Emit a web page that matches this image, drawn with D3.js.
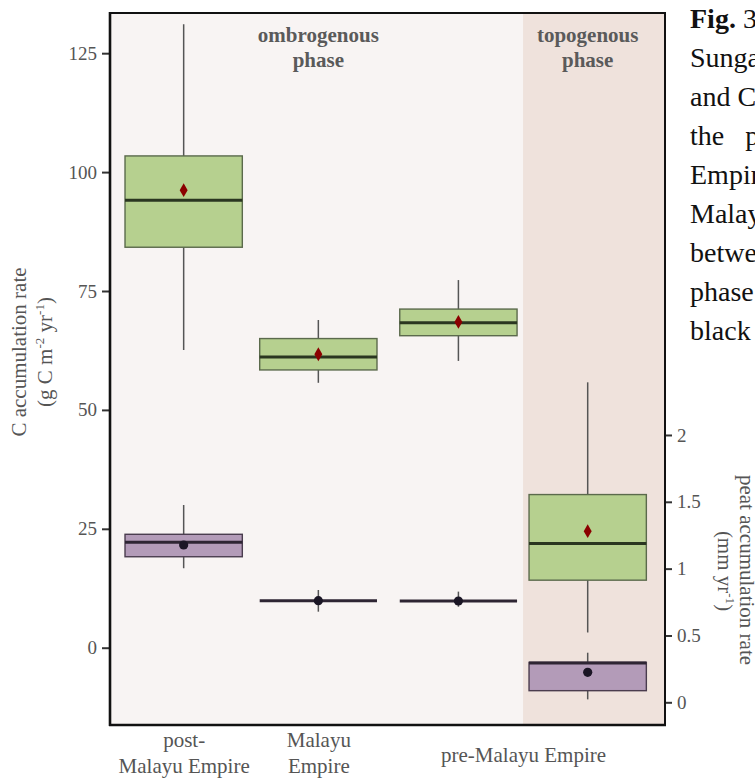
<!DOCTYPE html>
<html>
<head>
<meta charset="utf-8">
<script src="https://cdn.jsdelivr.net/npm/d3@7"></script>
<style>
  html, body { margin: 0; padding: 0; background: #ffffff; }
  svg { display: block; }
</style>
</head>
<body>
<svg id="chart" width="755" height="781"></svg>
<script>
// ---------------- DATA ----------------
const groups = ["post-Malayu Empire", "Malayu Empire", "pre-Malayu Empire (ombrogenous)", "pre-Malayu Empire (topogenous)"];
const xPos = [1, 2, 3.04, 4];

// C accumulation rate (g C m-2 yr-1) — left axis, green boxes
const cMin  = [62.6, 55.7, 60.3, 3.2];
const cQ1   = [84.2, 58.4, 65.6, 14.2];
const cMed  = [94.1, 61.1, 68.3, 21.9];
const cQ3   = [103.4, 65.0, 71.2, 32.2];
const cMax  = [131.1, 68.9, 77.3, 55.8];
const cMean = [96.2, 61.7, 68.5, 24.5];

// peat accumulation rate (mm yr-1) — right axis, purple boxes
const pMin  = [1.003, 0.678, 0.715, 0.022];
const pQ1   = [1.089, 0.760, 0.758, 0.087];
const pMed  = [1.197, 0.760, 0.758, 0.294];
const pQ3   = [1.257, 0.760, 0.758, 0.299];
const pMax  = [1.476, 0.840, 0.828, 0.371];
const pMean = [1.177, 0.760, 0.758, 0.224];

const leftTicks  = [0, 25, 50, 75, 100, 125];
const rightTicks = [0, 0.5, 1, 1.5, 2];
const xLabelPos  = [1, 2, 3.52];
const xLabels    = [["post-", "Malayu Empire"], ["Malayu", "Empire"], ["pre-Malayu Empire"]];
const phaseBoundary = 3.52;
const phaseLabels = [{x: 2.0, lines: ["ombrogenous", "phase"]}, {x: 4.0, lines: ["topogenous", "phase"]}];
const captionLines = ["Fig. 3", "Sungai", "and C", "the p", "Empire", "Malayu", "between", "phase", "black"];

// ---------------- SETUP ----------------
const svg = d3.select("#chart");
const serif = "'Liberation Serif', 'Times New Roman', serif";
const L = 110, R = 665, T = 13, B = 725;

const x  = d3.scaleLinear().domain([0.453, 4.574]).range([L, R]);
const yC = d3.scaleLinear().domain([-16.25, 133.45]).range([B, T]);
const yP = d3.scaleLinear().domain([-0.1698, 5.157]).range([B, T]);

const boxW = x(0.4355) - x(0);

// backgrounds
svg.append("rect").attr("x", x(x.domain()[0])).attr("y", T)
  .attr("width", x(phaseBoundary) - x(x.domain()[0])).attr("height", B - T)
  .attr("fill", "#f8f4f3");
svg.append("rect").attr("x", x(phaseBoundary)).attr("y", T)
  .attr("width", x(x.domain()[1]) - x(phaseBoundary)).attr("height", B - T)
  .attr("fill", "#efe2dc");

// phase labels
phaseLabels.forEach(p => {
  const t = svg.append("text").attr("text-anchor", "middle")
    .attr("font-family", serif).attr("font-size", 21).attr("font-weight", "bold")
    .attr("fill", "#5a5a5a");
  p.lines.forEach((ln, i) => {
    t.append("tspan").attr("x", x(p.x)).attr("y", 42 + i * 25).text(ln);
  });
});

// ---------------- BOXES ----------------
function drawBox(i, stats, scale, fill, stroke, medColor, meanType) {
  const g = svg.append("g");
  const cx = x(xPos[i]);
  g.append("line").attr("x1", cx).attr("x2", cx)
    .attr("y1", scale(stats.max)).attr("y2", scale(stats.min))
    .attr("stroke", "#555").attr("stroke-width", 1.5);
  const top = scale(stats.q3), bot = scale(stats.q1);
  if (bot - top > 0.5) {
    g.append("rect").attr("x", cx - boxW).attr("y", top)
      .attr("width", boxW * 2).attr("height", bot - top)
      .attr("fill", fill).attr("stroke", stroke).attr("stroke-width", 1.4);
  }
  g.append("line").attr("x1", cx - boxW).attr("x2", cx + boxW)
    .attr("y1", scale(stats.med)).attr("y2", scale(stats.med))
    .attr("stroke", medColor).attr("stroke-width", 3);
  if (meanType === "diamond") {
    g.append("path").attr("d", d3.symbol(d3.symbolDiamond, 55)())
      .attr("transform", `translate(${cx},${scale(stats.mean)})`)
      .attr("fill", "#8b0000");
  } else {
    g.append("circle").attr("cx", cx).attr("cy", scale(stats.mean)).attr("r", 4.6)
      .attr("fill", "#1b1625");
  }
}

groups.forEach((gname, i) => {
  drawBox(i, {min: pMin[i], q1: pQ1[i], med: pMed[i], q3: pQ3[i], max: pMax[i], mean: pMean[i]},
    yP, "#b39bb8", "#4a3c4e", "#2e2533", "dot");
  drawBox(i, {min: cMin[i], q1: cQ1[i], med: cMed[i], q3: cQ3[i], max: cMax[i], mean: cMean[i]},
    yC, "#b6d08f", "#5b6a4c", "#2a3620", "diamond");
});

// ---------------- AXES ----------------
const axL = svg.append("g").attr("transform", `translate(${L},0)`)
  .call(d3.axisLeft(yC).tickValues(leftTicks).tickSize(8).tickPadding(5));
const axR = svg.append("g").attr("transform", `translate(${R},0)`)
  .call(d3.axisRight(yP).tickValues(rightTicks).tickSize(7).tickPadding(5).tickFormat(d => String(d)));
[axL, axR].forEach(a => {
  a.select(".domain").remove();
  a.selectAll(".tick line").attr("stroke", "#333").attr("stroke-width", 2);
  a.selectAll(".tick text").attr("font-family", serif).attr("font-size", 19).attr("fill", "#555");
});

// x axis labels
const axB = svg.append("g").attr("transform", `translate(0,${B})`)
  .call(d3.axisBottom(x).tickValues(xLabelPos).tickSize(0).tickFormat(""));
axB.select(".domain").remove();
axB.selectAll(".tick").each(function(d, i) {
  const lines = xLabels[i];
  const t = d3.select(this).append("text").attr("text-anchor", "middle")
    .attr("font-family", serif).attr("font-size", 21).attr("fill", "#555");
  if (lines.length === 1) {
    t.append("tspan").attr("x", 0).attr("y", 37).text(lines[0]);
  } else {
    lines.forEach((ln, j) => t.append("tspan").attr("x", 0).attr("y", 22 + j * 26).text(ln));
  }
});

// panel border
svg.append("rect").attr("x", L).attr("y", T).attr("width", R - L).attr("height", B - T)
  .attr("fill", "none").attr("stroke", "#111").attr("stroke-width", 2);
svg.append("line").attr("x1", L).attr("x2", L).attr("y1", T - 1).attr("y2", B + 1)
  .attr("stroke", "#111").attr("stroke-width", 2.6);
svg.append("line").attr("x1", L - 1).attr("x2", R + 1).attr("y1", B).attr("y2", B)
  .attr("stroke", "#111").attr("stroke-width", 2.6);

// axis titles
svg.append("text").attr("transform", "translate(26,352) rotate(-90)")
  .attr("text-anchor", "middle").attr("font-family", serif).attr("font-size", 21).attr("fill", "#555")
  .text("C accumulation rate");
const lt2 = svg.append("text").attr("transform", "translate(52,352) rotate(-90)")
  .attr("text-anchor", "middle").attr("font-family", serif).attr("font-size", 21).attr("fill", "#555");
lt2.append("tspan").text("(g C m");
lt2.append("tspan").attr("font-size", 13).attr("dy", -8).text("-2");
lt2.append("tspan").attr("dy", 8).text(" yr");
lt2.append("tspan").attr("font-size", 13).attr("dy", -8).text("-1");
lt2.append("tspan").attr("dy", 8).text(")");

svg.append("text").attr("transform", "translate(740,570) rotate(90)")
  .attr("text-anchor", "middle").attr("font-family", serif).attr("font-size", 21).attr("fill", "#555")
  .text("peat accumulation rate");
const rt2 = svg.append("text").attr("transform", "translate(718,571) rotate(90)")
  .attr("text-anchor", "middle").attr("font-family", serif).attr("font-size", 21).attr("fill", "#555");
rt2.append("tspan").text("(mm yr");
rt2.append("tspan").attr("font-size", 13).attr("dy", -8).text("-1");
rt2.append("tspan").attr("dy", 8).text(")");

// caption fragment (cut at the window edge, as in the reference)
captionLines.forEach((ln, i) => {
  const t = svg.append("text").attr("x", 690).attr("y", 28 + i * 39)
    .attr("font-family", serif).attr("font-size", 28).attr("fill", "#111");
  if (i === 0) {
    t.append("tspan").attr("font-weight", "bold").text("Fig.");
    t.append("tspan").text(" 3");
  } else if (i === 3) {
    t.attr("word-spacing", 14).text(ln);
  } else {
    t.text(ln);
  }
});
</script>
</body>
</html>
